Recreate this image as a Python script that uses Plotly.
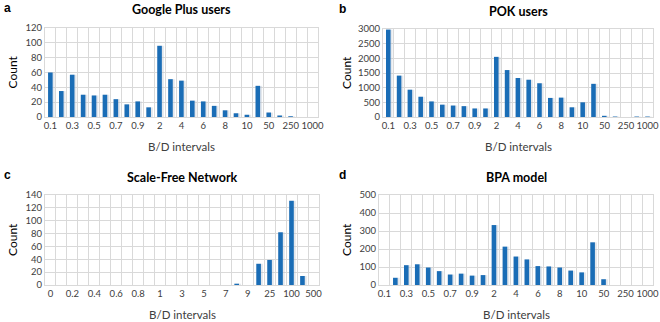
import plotly.graph_objects as go

# Categories
cats_abd = ["0.1", "0.2", "0.3", "0.4", "0.5", "0.6", "0.7", "0.8", "0.9", "1",
            "2", "3", "4", "5", "6", "7", "8", "9", "10", "25", "50", "100", "250", "500", "1000"]
cats_c = ["0", "0.1", "0.2", "0.3", "0.4", "0.5", "0.6", "0.7", "0.8", "0.9", "1",
          "2", "3", "4", "5", "6", "7", "8", "9", "10", "25", "50", "100", "250", "500"]

# Series values
google_plus = [60, 35, 57, 30, 29, 30, 24, 17, 21, 13, 96, 51, 49, 22, 21, 15, 9, 5, 3, 42, 6, 2, 1, 0, 0]
pok = [2980, 1410, 930, 690, 530, 420, 390, 370, 290, 290, 2050, 1600, 1330, 1270, 1150, 650, 660, 330, 500,
       1130, 40, 15, 0, 15, 15]
scale_free = [0, 0, 0, 0, 0, 0, 0, 0, 0, 0, 0, 0, 0, 0, 0, 0, 0, 2, 0, 33, 39, 82, 131, 14, 0]
bpa = [0, 40, 110, 115, 97, 77, 58, 63, 52, 55, 333, 213, 158, 142, 105, 103, 97, 80, 70, 237, 32, 0, 0, 0, 0]

titles = ["Google Plus users", "POK users", "Scale-Free Network", "BPA model"]
letters = ["a", "b", "c", "d"]
yranges = [(0, 120, 20), (0, 3000, 500), (0, 140, 20), (0, 500, 100)]

W, H = 660, 322
# plot boxes in pixels: (x0, x1, ytop, ybottom)
boxes = [(45, 318, 28, 117), (383, 653, 29, 117), (45, 319, 195, 285), (379, 653, 195, 285)]

series = [(cats_abd, google_plus), (cats_abd, pok), (cats_c, scale_free), (cats_abd, bpa)]

BLUE = "#1a6db6"
GRID = "#d9d9d9"
FONT = "Lato"

fig = go.Figure()
layout = dict(width=W, height=H, margin=dict(l=0, r=0, t=0, b=0),
              paper_bgcolor="white", plot_bgcolor="white", showlegend=False,
              barmode="overlay", annotations=[])

for i, ((cats, vals), box, yr) in enumerate(zip(series, boxes, yranges)):
    n = i + 1
    xa = "x" if n == 1 else f"x{n}"
    ya = "y" if n == 1 else f"y{n}"
    # soft shadow
    fig.add_trace(go.Bar(x=cats, y=vals, xaxis=xa, yaxis=ya, width=0.6, offset=-0.22,
                         marker=dict(color="rgba(185,195,208,0.4)", line=dict(width=0)),
                         hoverinfo="skip"))
    fig.add_trace(go.Bar(x=cats, y=vals, xaxis=xa, yaxis=ya, width=0.42, offset=-0.22,
                         marker=dict(color=BLUE, line=dict(width=0))))
    x0, x1, yt, yb = box
    ticktext = [c if k % 2 == 0 else "" for k, c in enumerate(cats)]
    layout["xaxis" + ("" if n == 1 else str(n))] = dict(
        domain=[x0 / W, x1 / W], anchor=ya, type="category",
        categoryorder="array", categoryarray=cats,
        tickvals=cats, ticktext=ticktext, tickson="boundaries", tickangle=0,
        showgrid=True, gridcolor=GRID, gridwidth=1,
        showline=True, linecolor=GRID, mirror=True, ticks="",
        tickfont=dict(family=FONT, size=9.5, color="#404040"),
        range=[-0.5, len(cats) - 0.5], fixedrange=True, automargin=False)
    layout["yaxis" + ("" if n == 1 else str(n))] = dict(
        domain=[1 - yb / H, 1 - yt / H], anchor=xa,
        range=[yr[0], yr[1]], dtick=yr[2], tick0=0,
        showgrid=True, gridcolor=GRID, gridwidth=1, zeroline=False,
        showline=True, linecolor=GRID, mirror=True, ticks="",
        tickfont=dict(family=FONT, size=9.5, color="#404040"), fixedrange=True, automargin=False)
    cx = (x0 + x1) / 2
    # title
    layout["annotations"].append(dict(
        text="<b>" + titles[i] + "</b>", x=cx / W,
        y=1 - (yt - 18) / H, xref="paper", yref="paper", showarrow=False,
        xanchor="center", yanchor="middle", font=dict(family=FONT, size=12.5, color="#000")))
    # panel letter
    lx = 7 if i % 2 == 0 else 342
    layout["annotations"].append(dict(
        text="<b>" + letters[i] + "</b>", x=lx / W, y=1 - (yt - 20) / H,
        xref="paper", yref="paper", showarrow=False, xanchor="center", yanchor="middle",
        font=dict(family="Liberation Sans", size=12, color="#000")))
    # x axis title
    layout["annotations"].append(dict(
        text="B/D intervals", x=cx / W, y=1 - (yb + 29) / H, xref="paper", yref="paper",
        showarrow=False, xanchor="center", yanchor="middle",
        font=dict(family=FONT, size=11.5, color="#404040")))
    # y axis title
    yx = 12 if i % 2 == 0 else 346
    layout["annotations"].append(dict(
        text="Count", x=yx / W, y=1 - ((yt + yb) / 2) / H, xref="paper", yref="paper",
        showarrow=False, xanchor="center", yanchor="middle", textangle=-90,
        font=dict(family=FONT, size=12, color="#000")))

fig.update_layout(**layout)
fig.write_html("out.html", config={"displayModeBar": False, "staticPlot": True},
               post_script="document.body.style.margin='0';document.body.style.overflow='hidden';")
